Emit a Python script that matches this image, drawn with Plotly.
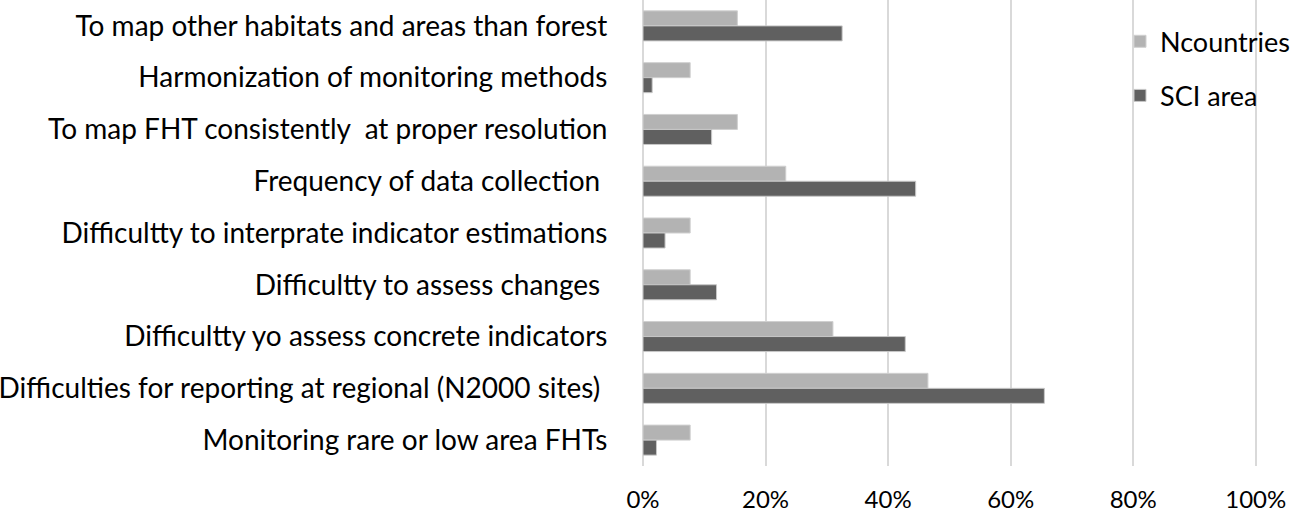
import plotly.graph_objects as go

categories = [
    "To map other habitats and areas than forest",
    "Harmonization of monitoring methods",
    "To map FHT consistently  at proper resolution",
    "Frequency of data collection ",
    "Difficultty to interprate indicator estimations",
    "Difficultty to assess changes ",
    "Difficultty yo assess concrete indicators",
    "Difficulties for reporting at regional (N2000 sites) ",
    "Monitoring rare or low area FHTs",
]
ncountries = [0.154, 0.077, 0.154, 0.233, 0.077, 0.077, 0.31, 0.465, 0.077]
sci_area = [0.325, 0.015, 0.112, 0.445, 0.036, 0.12, 0.428, 0.655, 0.022]

fig = go.Figure()
fig.add_trace(go.Bar(
    y=categories, x=ncountries, name="Ncountries", orientation="h",
    marker=dict(color="#b3b3b3", line=dict(color="#d0d0d0", width=1)),
    legendgroup="a",
))
fig.add_trace(go.Bar(
    y=categories, x=sci_area, name="SCI area", orientation="h",
    marker=dict(color="#606060", line=dict(color="#c8c8c8", width=1)),
    legendgroup="b",
))

fig.update_layout(
    width=1296, height=515,
    margin=dict(l=643, r=38, t=0, b=49),
    barmode="group",
    bargap=0.42,
    bargroupgap=0,
    paper_bgcolor="white",
    plot_bgcolor="white",
    font=dict(family="Lato", size=28, color="#000000"),
    showlegend=True,
    legend=dict(
        x=0.777, y=0.963, xanchor="left", yanchor="top",
        bgcolor="rgba(0,0,0,0)",
        font=dict(size=27),
        traceorder="grouped",
        tracegroupgap=16,
        itemwidth=30,
    ),
)
fig.update_xaxes(
    range=[0, 1.002], tickvals=[0, 0.2, 0.4, 0.6, 0.8, 1.0], tickformat=".0%",
    showgrid=True, gridcolor="#d9d9d9", gridwidth=2,
    zeroline=True, zerolinecolor="#d9d9d9", zerolinewidth=2,
    showline=False, automargin=False,
    tickfont=dict(size=24),
    ticks="outside", ticklen=12, tickcolor="rgba(0,0,0,0)",
)
fig.update_yaxes(
    autorange="reversed", automargin=False,
    showgrid=False, zeroline=False, showline=False,
    ticks="outside", ticklen=29, tickcolor="rgba(0,0,0,0)",
    tickfont=dict(size=28),
)

fig.write_html(
    "out.html",
    config={"displayModeBar": False},
    post_script="document.body.style.margin='0';",
)
